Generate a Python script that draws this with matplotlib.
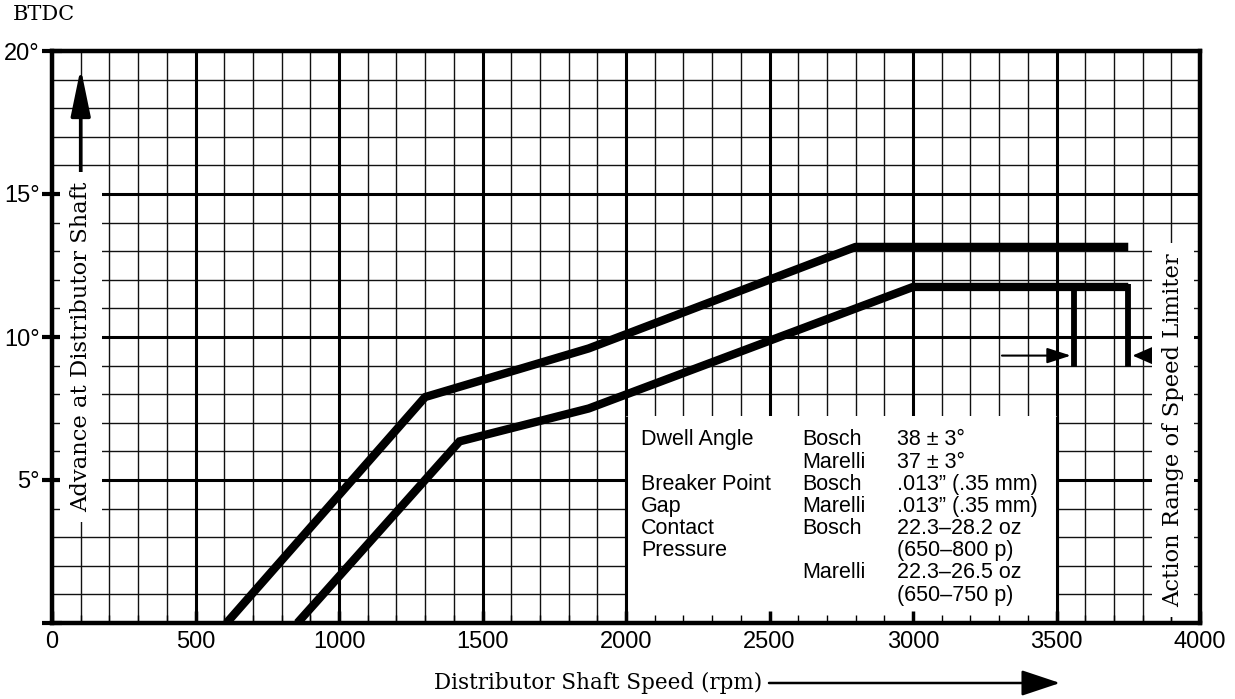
import numpy as np
import matplotlib.pyplot as plt
from matplotlib.patches import Rectangle

# advance curves (rpm, degrees BTDC)
early_rpm = [608, 1300, 1870, 2800, 3750]
early_adv = [0, 7.9, 9.6, 13.15, 13.15]
late_rpm = [855, 1420, 1870, 3000, 3750]
late_adv = [0, 6.35, 7.5, 11.75, 11.75]

# speed limiter range
limiter_rpm = [3560, 3750]
limiter_top = 11.75
limiter_bottom = 8.95
limiter_arrow_y = 9.35

x_major = np.arange(0, 4001, 500)
x_minor = np.arange(0, 4001, 100)
y_major = np.arange(0, 21, 5)
y_minor = np.arange(0, 21, 1)
y_labels = ['', '5°', '10°', '15°', '20°']

# spec table inside the chart
spec_col1 = ['Dwell Angle', '', 'Breaker Point', 'Gap', 'Contact', 'Pressure', '', '']
spec_col2 = ['Bosch', 'Marelli', 'Bosch', 'Marelli', 'Bosch', '', 'Marelli', '']
spec_col3 = ['38 ± 3°', '37 ± 3°', '.013\u201d (.35 mm)', '.013\u201d (.35 mm)',
             '22.3\u201328.2 oz', '(650\u2013800 p)', '22.3\u201326.5 oz', '(650\u2013750 p)']

SERIF = ['DejaVu Serif']
SANS = ['Liberation Sans', 'DejaVu Sans']

fig = plt.figure(figsize=(12.35, 6.99), dpi=100)
ax = fig.add_axes([52 / 1235, 1 - 623 / 699, (1200 - 52) / 1235, (623 - 51) / 699])
ax.set_xlim(0, 4000)
ax.set_ylim(0, 20)
ax.set_axisbelow(False)

# graph paper grid
ax.vlines(x_minor, 0, 20, color='#111111', lw=1.0, zorder=1)
ax.hlines(y_minor, 0, 4000, color='#111111', lw=1.0, zorder=1)
ax.vlines(x_major, 0, 20, color='black', lw=2.2, zorder=1.1)
ax.hlines(y_major, 0, 4000, color='black', lw=2.2, zorder=1.1)

# white panel for the spec table
ax.add_patch(Rectangle((2000, 0), 1500, 7.25, facecolor='white', edgecolor='none', zorder=1.5))
ax.vlines([2000, 3500], 0, 7.25, color='black', lw=2.2, zorder=1.6)

# curves
ax.plot(early_rpm, early_adv, color='black', lw=6, solid_capstyle='butt',
        solid_joinstyle='round', zorder=3)
ax.plot(late_rpm, late_adv, color='black', lw=6, solid_capstyle='butt',
        solid_joinstyle='miter', zorder=3)
ax.vlines(limiter_rpm, limiter_bottom, limiter_top + 0.12, color='black', lw=4.2, zorder=3)

ax.annotate('', xy=(3550, limiter_arrow_y), xytext=(3310, limiter_arrow_y),
            arrowprops=dict(arrowstyle='-|>,head_length=1.45,head_width=0.47', mutation_scale=10,
                            lw=1.5, color='black', shrinkA=0, shrinkB=0), zorder=3)
ax.annotate('', xy=(3765, limiter_arrow_y), xytext=(3880, limiter_arrow_y),
            arrowprops=dict(arrowstyle='-|>,head_length=1.6,head_width=0.7', mutation_scale=10,
                            lw=1.5, color='black', shrinkA=0, shrinkB=0), zorder=3)

# axis arrow on the left
ax.annotate('', xy=(100, 19.4), xytext=(100, 9.65),
            arrowprops=dict(arrowstyle='-|>,head_length=2.9,head_width=0.6', mutation_scale=10,
                            lw=2.6, color='black', shrinkA=0, shrinkB=0), zorder=3)
ax.text(100, 9.65, 'Advance at Distributor Shaft', rotation=90, ha='center', va='center',
        family=SERIF, fontsize=16.3, zorder=4,
        bbox=dict(boxstyle='square,pad=0.45', facecolor='white', edgecolor='none'))
ax.text(3905, 6.75, 'Action Range of Speed Limiter', rotation=90, ha='center', va='center',
        family=SERIF, fontsize=16.3, zorder=4,
        bbox=dict(boxstyle='square,pad=0.45', facecolor='white', edgecolor='none'))

# spec table text
for i, (a, b, c) in enumerate(zip(spec_col1, spec_col2, spec_col3)):
    y = 6.40 - 0.775 * i
    ax.text(2052, y, a, ha='left', va='center', family=SANS, fontsize=15.5, zorder=4)
    ax.text(2613, y, b, ha='left', va='center', family=SANS, fontsize=15.5, zorder=4)
    ax.text(2944, y, c, ha='left', va='center', family=SANS, fontsize=15.5, zorder=4)

# ticks and spines
ax.set_xticks(x_major)
ax.set_xticks(x_minor, minor=True)
ax.set_xticklabels([str(v) for v in x_major], family=SANS, fontsize=17)
ax.set_yticks(y_major)
ax.set_yticks([], minor=True)
ax.set_yticklabels(y_labels, family=SANS, fontsize=17)
ax.tick_params(axis='x', which='major', direction='in', length=9, width=2.5, pad=6)
ax.tick_params(axis='x', which='minor', direction='in', length=6, width=1.0)
ax.tick_params(axis='y', which='major', direction='inout', length=14, width=3, pad=2)
for s in ax.spines.values():
    s.set_linewidth(3.2)

fig.text(13 / 1235, 1 - 15 / 699, 'BTDC', ha='left', va='center', family=SERIF, fontsize=15)

fig.text(762 / 1235, 1 - 683 / 699, 'Distributor Shaft Speed (rpm)', ha='right', va='center',
         family=SERIF, fontsize=15.5)
ax.annotate('', xy=(1060 / 1235, 1 - 683 / 699), xytext=(769 / 1235, 1 - 683 / 699),
            xycoords='figure fraction', textcoords='figure fraction',
            arrowprops=dict(arrowstyle='-|>,head_length=2.4,head_width=0.8', mutation_scale=10,
                            lw=1.8, color='black', shrinkA=0, shrinkB=0), annotation_clip=False)

fig.savefig('out.png', dpi=100)
